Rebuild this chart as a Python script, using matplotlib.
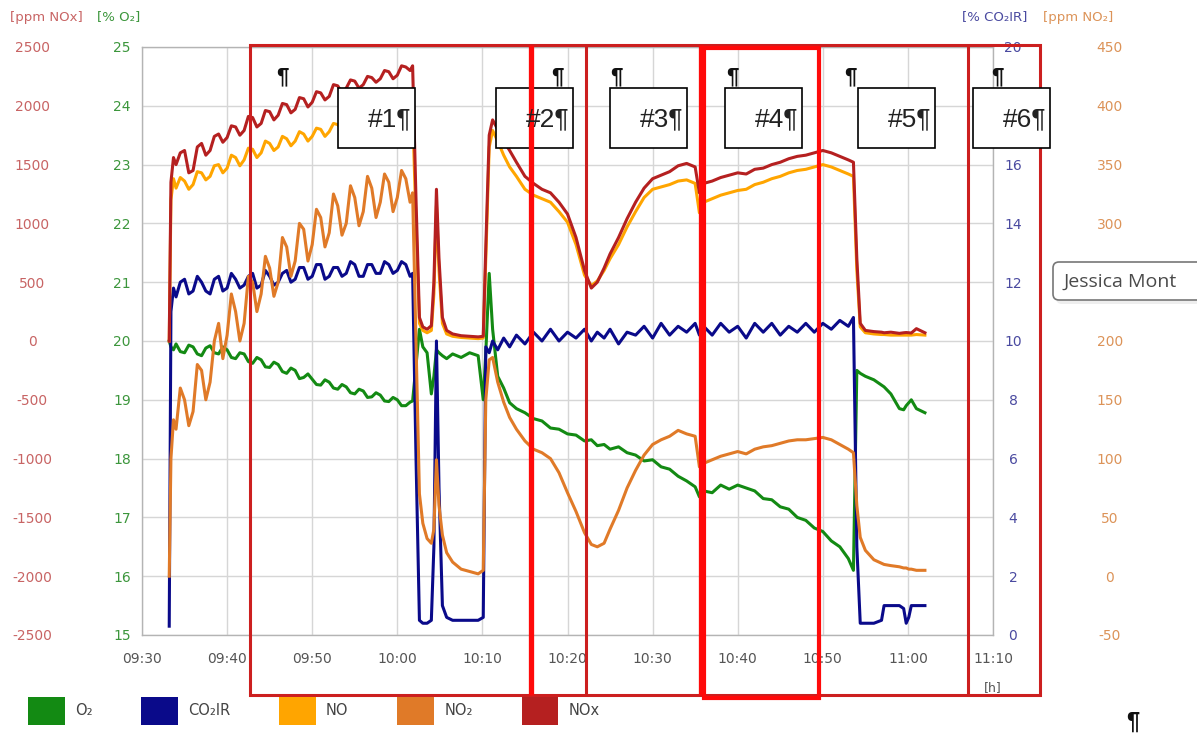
import matplotlib
matplotlib.use("Agg")
import matplotlib.pyplot as plt
from matplotlib.patches import Rectangle, Patch, FancyBboxPatch

plt.rcParams['font.family'] = ['DejaVu Sans']
plt.rcParams['axes.unicode_minus'] = False

# minutes after 09:30
T = [3.2, 3.4, 3.7,
     4, 4.5, 5, 5.5, 6, 6.5, 7, 7.5, 8, 8.5, 9, 9.5, 10, 10.5, 11, 11.5, 12, 12.5, 13, 13.5,
     14, 14.5, 15, 15.5, 16, 16.5, 17, 17.5, 18, 18.5, 19, 19.5, 20, 20.5, 21, 21.5, 22, 22.5,
     23, 23.5, 24, 24.5, 25, 25.5, 26, 26.5, 27, 27.5, 28, 28.5, 29, 29.5, 30, 30.5, 31, 31.5,
     31.8,
     32.2, 32.6, 33.0, 33.5, 34.0, 34.3, 34.6, 34.9, 35.3, 35.8, 36.5, 37.5, 38.5, 39.5, 40.1,
     40.4, 40.8, 41.2, 41.8, 42.5, 43.2, 44, 45, 46, 47, 48, 49, 50, 51, 52, 52.8, 53.5, 54.3,
     55, 56, 57, 58, 59, 60, 61, 62, 63, 64, 65, 65.5, 66, 67, 68, 69, 70, 71, 72, 73, 74, 75,
     76, 77, 78, 79, 80, 81, 82, 83, 83.6,
     84.0, 84.4, 85, 86, 86.9, 87.2, 88, 89, 89.5, 89.8, 90.1, 90.4, 91, 92]

O2 = [20.0, 19.9, 19.85,
      19.95, 19.82, 19.8, 19.93, 19.9, 19.78, 19.75, 19.88, 19.92, 19.8, 19.78, 19.9, 19.85,
      19.72, 19.7, 19.8, 19.78, 19.65, 19.62, 19.72, 19.68, 19.56, 19.55, 19.64, 19.6, 19.48,
      19.45, 19.54, 19.5, 19.36, 19.38, 19.44, 19.35, 19.26, 19.25, 19.34, 19.3, 19.2, 19.18,
      19.26, 19.22, 19.12, 19.1, 19.18, 19.15, 19.04, 19.05, 19.12, 19.08, 18.98, 18.97, 19.04,
      19.0, 18.9, 18.9, 18.96,
      18.98,
      19.6, 20.2, 19.9, 19.8, 19.1, 19.4, 19.85, 19.8, 19.75, 19.7, 19.78, 19.72, 19.8, 19.75, 19.0,
      19.8, 21.15, 20.2, 19.4, 19.2, 18.95, 18.85, 18.78, 18.68, 18.64, 18.52, 18.5, 18.42, 18.4,
      18.3, 18.32, 18.22, 18.24, 18.16, 18.2, 18.1, 18.06, 17.96, 17.98, 17.86, 17.82, 17.7, 17.62,
      17.52, 17.35, 17.45, 17.42, 17.55, 17.48, 17.55, 17.5, 17.45, 17.32, 17.3, 17.18, 17.14, 17.0,
      16.95, 16.82, 16.76, 16.6, 16.5, 16.3, 16.1,
      19.5, 19.45, 19.4, 19.34, 19.25, 19.22, 19.1, 18.85, 18.83, 18.9, 18.95, 19.0, 18.85, 18.78]

CO2 = [0.3, 11.0, 11.8,
       11.5, 12.0, 12.1, 11.6, 11.7, 12.2, 12.0, 11.7, 11.6, 12.1, 12.2, 11.7, 11.8, 12.3, 12.1,
       11.8, 11.9, 12.2, 12.3, 11.8, 11.9, 12.4, 12.2, 11.9, 12.0, 12.3, 12.4, 12.0, 12.1, 12.5,
       12.5, 12.1, 12.2, 12.6, 12.6, 12.1, 12.2, 12.5, 12.5, 12.2, 12.3, 12.7, 12.6, 12.2, 12.2,
       12.6, 12.6, 12.3, 12.3, 12.7, 12.6, 12.3, 12.4, 12.7, 12.6, 12.2,
       12.3,
       6.0, 0.5, 0.4, 0.4, 0.5, 3.0, 10.0, 5.0, 1.0, 0.6, 0.5, 0.5, 0.5, 0.5, 0.6,
       9.8, 9.6, 10.0, 9.7, 10.1, 9.8, 10.2, 9.9, 10.3, 10.0, 10.4, 10.0, 10.3, 10.1, 10.4, 10.0,
       10.3, 10.1, 10.4, 9.9, 10.3, 10.2, 10.5, 10.1, 10.6, 10.2, 10.5, 10.3, 10.6, 10.2, 10.5,
       10.2, 10.6, 10.3, 10.5, 10.1, 10.6, 10.3, 10.6, 10.2, 10.5, 10.3, 10.6, 10.3, 10.6, 10.4,
       10.7, 10.5, 10.8,
       3.0, 0.4, 0.4, 0.4, 0.5, 1.0, 1.0, 1.0, 0.9, 0.4, 0.6, 1.0, 1.0, 1.0]

NO = [0, 1200, 1380,
      1300, 1390, 1360, 1290, 1330, 1440, 1430, 1370, 1400, 1490, 1500, 1430, 1470, 1580, 1560,
      1490, 1540, 1640, 1630, 1560, 1600, 1700, 1680, 1620, 1650, 1740, 1720, 1660, 1700, 1780,
      1760, 1700, 1740, 1810, 1800, 1740, 1780, 1850, 1840, 1790, 1820, 1880, 1870, 1820, 1850,
      1900, 1890, 1840, 1880, 1930, 1920, 1870, 1900, 1960, 1950, 1920,
      1960,
      1000, 150, 90, 70, 90, 400, 1150, 600, 150, 60, 40, 30, 25, 20, 25,
      700, 1650, 1790, 1700, 1580, 1480, 1400, 1290, 1240, 1210, 1180, 1100, 1010, 820, 560, 470,
      510, 600, 700, 820, 970, 1100, 1220, 1290, 1310, 1330, 1360, 1370, 1340, 1090, 1180, 1210,
      1240, 1260, 1280, 1290, 1330, 1350, 1380, 1400, 1430, 1450, 1460, 1480, 1500, 1480, 1450,
      1420, 1400,
      600, 120, 70, 60, 55, 55, 50, 50, 50, 50, 50, 50, 55, 50]

NO2 = [0, 100, 133,
       125, 160, 150, 128, 140, 180, 175, 150, 165, 200, 215, 185, 205, 240, 225, 200, 215, 255,
       250, 225, 240, 272, 262, 238, 250, 288, 280, 255, 268, 300, 295, 268, 282, 312, 305, 280,
       292, 325, 315, 290, 300, 332, 322, 298, 310, 340, 330, 305, 318, 342, 335, 310, 322, 345,
       338, 318,
       326,
       200, 70, 45, 32, 28, 40, 99, 60, 35, 20, 12, 6, 4, 2, 5,
       150, 184, 186, 165, 148, 135, 125, 115, 108, 105, 100, 88, 71, 55, 37, 27, 25, 28, 40, 56,
       75, 90, 103, 112, 116, 119, 124, 121, 119, 93, 96, 99, 102, 104, 106, 104, 108, 110, 111,
       113, 115, 116, 116, 117, 118, 116, 112, 108, 105,
       60, 33, 22, 14, 11, 10, 9, 8, 7, 7, 6, 6, 5, 5]

NOX = [0, 1350, 1560,
       1500, 1600, 1620, 1430, 1450, 1650, 1680, 1580, 1620, 1740, 1760, 1690, 1730, 1830, 1820,
       1750, 1790, 1910, 1900, 1820, 1850, 1960, 1950, 1880, 1920, 2020, 2010, 1940, 1970, 2070,
       2060, 1990, 2030, 2120, 2110, 2050, 2080, 2180, 2170, 2110, 2150, 2220, 2210, 2150, 2180,
       2250, 2240, 2200, 2230, 2300, 2290, 2230, 2260, 2340, 2330, 2300,
       2340,
       1200, 200, 120, 100, 130, 500, 1290, 700, 200, 90, 60, 45, 40, 35, 40,
       800, 1750, 1880, 1800, 1700, 1620, 1520, 1400, 1340, 1290, 1260, 1180, 1080, 880, 600, 450,
       500, 620, 740, 880, 1040, 1180, 1300, 1380, 1410, 1440, 1490, 1510, 1480, 1260, 1340, 1360,
       1390, 1410, 1430, 1420, 1460, 1470, 1500, 1520, 1550, 1570, 1580, 1600, 1620, 1600, 1570,
       1540, 1520,
       700, 150, 90, 80, 75, 70, 75, 65, 70, 72, 70, 68, 105, 70]

X_TICKS = [0, 10, 20, 30, 40, 50, 60, 70, 80, 90, 100]
X_LABELS = ["09:30", "09:40", "09:50", "10:00", "10:10", "10:20", "10:30", "10:40",
            "10:50", "11:00", "11:10"]
O2_TICKS = [15, 16, 17, 18, 19, 20, 21, 22, 23, 24, 25]
NOX_TICKS = [-2500, -2000, -1500, -1000, -500, 0, 500, 1000, 1500, 2000, 2500]
CO2_TICKS = [0, 2, 4, 6, 8, 10, 12, 14, 16, 18, 20]
NO2_TICKS = [-50, 0, 50, 100, 150, 200, 250, 300, 350, 400, 450]

SERIES = ["O\u2082", "CO\u2082IR", "NO", "NO\u2082", "NOx"]
COLORS = ["#138a13", "#0a0a8a", "#ffa500", "#e07a28", "#b52020"]

C_NOX_T = "#c86464"
C_O2_T = "#3c963c"
C_CO2_T = "#4a4aa0"
C_NO2_T = "#dc9358"

fig = plt.figure(figsize=(11.97, 7.38), dpi=100)
ax = fig.add_axes([142 / 1197, 103 / 738, 851 / 1197, 588 / 738])
ax_co2 = ax.twinx()
ax_no = ax.twinx()
ax_no2 = ax.twinx()
ax_nox = ax.twinx()

lw = 2.2
ax.plot(T, O2, color=COLORS[0], lw=lw)
ax_co2.plot(T, CO2, color=COLORS[1], lw=lw)
ax_no.plot(T, NO, color=COLORS[2], lw=lw)
ax_no2.plot(T, NO2, color=COLORS[3], lw=lw)
ax_nox.plot(T, NOX, color=COLORS[4], lw=lw)

ax.set_xlim(0, 100)
ax.set_ylim(15, 25)
ax_co2.set_ylim(0, 20)
ax_no.set_ylim(-2500, 2500)
ax_no2.set_ylim(-50, 450)
ax_nox.set_ylim(-2500, 2500)

ax.set_xticks(X_TICKS)
ax.set_xticklabels(X_LABELS)
ax.tick_params(axis='x', length=0, pad=12, labelsize=10, labelcolor='#555555')
ax.set_yticks(O2_TICKS)
ax.tick_params(axis='y', length=0, pad=14.4, labelsize=10, labelcolor=C_O2_T)
ax.grid(True, color='#d6d6d6', lw=1)
ax.set_axisbelow(True)
for s in ax.spines.values():
    s.set_color('#b4b4b4')
    s.set_linewidth(1)

for a in (ax_co2, ax_no, ax_no2, ax_nox):
    for s in a.spines.values():
        s.set_visible(False)

ax_no.set_yticks([])
ax_co2.set_yticks(CO2_TICKS)
ax_co2.tick_params(axis='y', length=0, pad=14.4, labelsize=10, labelcolor=C_CO2_T)
ax_no2.set_yticks(NO2_TICKS)
ax_no2.tick_params(axis='y', length=0, pad=84, labelsize=10, labelcolor=C_NO2_T)
ax_nox.yaxis.tick_left()
ax_nox.set_yticks(NOX_TICKS)
ax_nox.tick_params(axis='y', length=0, pad=79, labelsize=10, labelcolor=C_NOX_T)

for a in (ax, ax_co2, ax_no2, ax_nox):
    for lab in a.get_yticklabels():
        lab.set_horizontalalignment('center')

# overlay in pixel coordinates for the annotations
ov = fig.add_axes([0, 0, 1, 1], zorder=10)
ov.set_xlim(0, 1197)
ov.set_ylim(738, 0)
ov.axis('off')

ov.text(10, 17, "[ppm NOx]", color=C_NOX_T, fontsize=9.5, va='center')
ov.text(97, 17, "[% O\u2082]", color=C_O2_T, fontsize=9.5, va='center')
ov.text(962, 17, "[% CO\u2082IR]", color=C_CO2_T, fontsize=9.5, va='center')
ov.text(1043, 17, "[ppm NO\u2082]", color=C_NO2_T, fontsize=9.5, va='center')
ov.text(993, 688, "[h]", color='#555555', fontsize=9, ha='center', va='center')

dark_red = "#cc1f1f"
bright_red = "#ff0a0a"
ov.add_patch(Rectangle((250, 45), 790, 650, fill=False, edgecolor=dark_red, lw=2.2))
for xv, col, w in [(531, bright_red, 3.8), (586, dark_red, 2.2), (701, bright_red, 3.8),
                   (968, dark_red, 2.2)]:
    ov.plot([xv, xv], [45, 695], color=col, lw=w, solid_capstyle='butt')
ov.add_patch(Rectangle((704, 48), 115, 650, fill=False, edgecolor=bright_red, lw=3.0))

boxes = [(338, "#1\u00b6", 282), (496, "#2\u00b6", 557), (610, "#3\u00b6", 616),
         (725, "#4\u00b6", 732), (858, "#5\u00b6", 850), (973, "#6\u00b6", 997)]
for bx, txt, px in boxes:
    ov.text(px, 77, "\u00b6", fontsize=16, fontweight='bold', ha='center', va='center',
            color='#111111', family=['Liberation Sans', 'DejaVu Sans'])
    ov.add_patch(Rectangle((bx, 88), 77, 60, facecolor='white', edgecolor='black', lw=1.2))
    ov.text(bx + 73, 119, txt, fontsize=19, ha='right', va='center', color='#222222',
            family=['Liberation Sans', 'DejaVu Sans'])

ov.text(1133, 722, "\u00b6", fontsize=17, fontweight='bold', ha='center', va='center',
        color='#111111', family=['Liberation Sans', 'DejaVu Sans'])

ov.add_patch(FancyBboxPatch((1056, 266), 200, 38, boxstyle="round,pad=0,rounding_size=6",
                            facecolor='#eeeeee', edgecolor='none'))
ov.add_patch(FancyBboxPatch((1053, 262), 200, 38, boxstyle="round,pad=0,rounding_size=6",
                            facecolor='white', edgecolor='#777777', lw=1.2))
ov.text(1063, 282, "Jessica Mont", fontsize=14, color='#4a4a4a', va='center',
        family=['Open Sans', 'DejaVu Sans'])

handles = [Patch(facecolor=c, edgecolor='none', label=l) for l, c in zip(SERIES, COLORS)]
leg = fig.legend(handles=handles, loc='center left', bbox_to_anchor=(28 / 1197, 1 - 711 / 738),
                 ncol=5, frameon=False, fontsize=10.5, handlelength=2.53, handleheight=2.53,
                 handletextpad=0.68, columnspacing=3.35, borderpad=0, borderaxespad=0)
for t in leg.get_texts():
    t.set_color('#444444')
leg.set_zorder(20)

fig.savefig("out.png", dpi=100)
